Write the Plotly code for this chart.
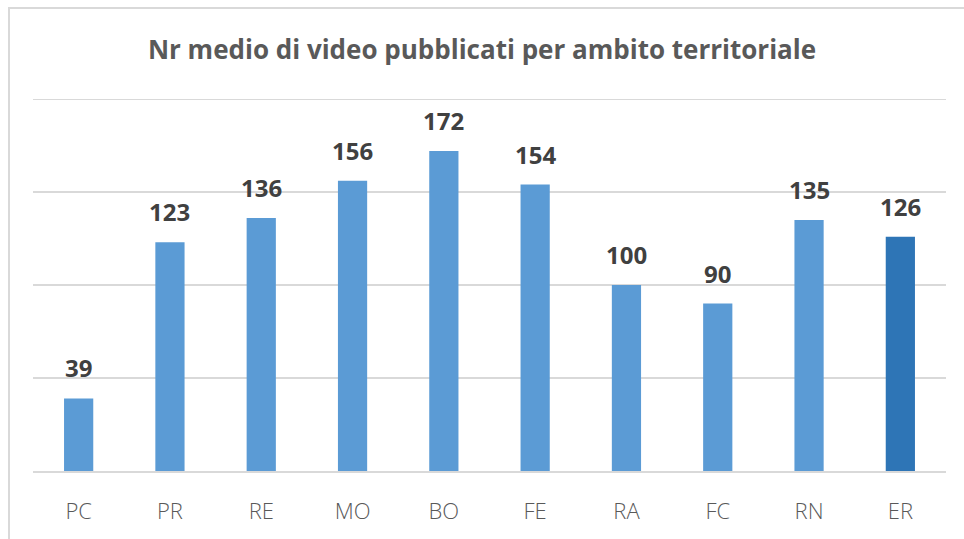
import plotly.graph_objects as go

# Average number of published videos per territorial area
categories = ["PC", "PR", "RE", "MO", "BO", "FE", "RA", "FC", "RN", "ER"]
values = [39, 123, 136, 156, 172, 154, 100, 90, 135, 126]
bar_colors = ["#5B9BD5"] * 9 + ["#2E75B6"]
y_ticks = [0, 50, 100, 150, 200]

W, H = 964, 539
L, R, T, B = 33, 18, 99, 68
pw, ph = W - L - R, H - T - B
GRID = "#D9D9D9"

fig = go.Figure(
    go.Bar(
        x=categories,
        y=values,
        marker=dict(color=bar_colors, line=dict(width=0)),
        width=0.32,
        hoverinfo="x+y",
    )
)

# Value labels above each bar
for c, v in zip(categories, values):
    fig.add_annotation(
        x=c, y=v, text=str(v), showarrow=False,
        yanchor="bottom", yshift=12,
        font=dict(family="Open Sans", size=24, color="#404040", weight="bold"),
    )

# Horizontal gridlines (including the top one at the range limit)
for t in y_ticks[1:]:
    fig.add_shape(
        type="line", xref="paper", yref="y", x0=0, x1=1, y0=t, y1=t,
        line=dict(color=GRID, width=2), layer="below",
    )

# Outer frame of the chart area
fig.add_shape(
    type="rect", xref="paper", yref="paper",
    x0=(9 - L) / pw, x1=(W + 10 - L) / pw,
    y0=(H - B - (H + 10)) / ph, y1=(H - B - 8) / ph,
    line=dict(color=GRID, width=2), fillcolor="rgba(0,0,0,0)",
    layer="below",
)

fig.update_layout(
    width=W, height=H,
    margin=dict(l=L, r=R, t=T, b=B),
    paper_bgcolor="white", plot_bgcolor="white",
    title=dict(
        text="Nr medio di video pubblicati per ambito territoriale",
        x=0.5, xanchor="center", y=1 - 50 / H, yanchor="middle",
        font=dict(family="Open Sans", size=26, color="#595959", weight="bold"),
    ),
    bargap=0.68,
    showlegend=False,
    xaxis=dict(
        showgrid=False, showline=True, linecolor=GRID, linewidth=2,
        ticks="", tickfont=dict(family="Open Sans", size=22, color="#595959", weight=300),
        ticklabelstandoff=20,
    ),
    yaxis=dict(
        range=[0, y_ticks[-1]], tickvals=y_ticks, showticklabels=False,
        showgrid=False, zeroline=False, showline=False,
    ),
)

fig.write_html("out.html")
